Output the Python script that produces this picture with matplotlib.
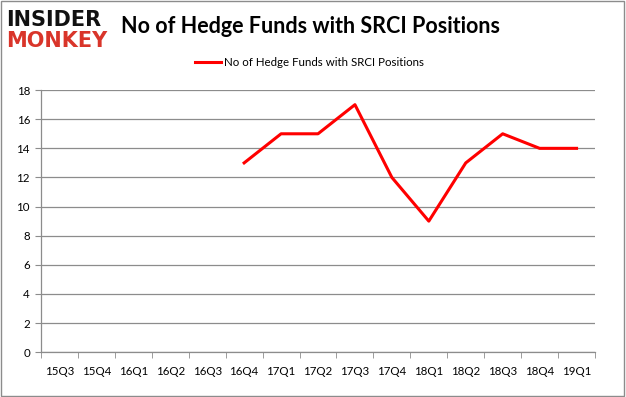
import numpy as np
import matplotlib.pyplot as plt

plt.rcParams['font.family'] = ['Lato', 'DejaVu Sans']

quarters = ['15Q3', '15Q4', '16Q1', '16Q2', '16Q3', '16Q4', '17Q1', '17Q2',
            '17Q3', '17Q4', '18Q1', '18Q2', '18Q3', '18Q4', '19Q1']
funds = [np.nan, np.nan, np.nan, np.nan, np.nan, 13, 15, 15, 17, 12, 9, 13, 15, 14, 14]
y_ticks = [0, 2, 4, 6, 8, 10, 12, 14, 16, 18]
series_name = 'No of Hedge Funds with SRCI Positions'

grid_col = '#8c8c8c'

fig = plt.figure(figsize=(6.26, 3.97), dpi=100)
ax = fig.add_axes([0.0655, 0.113, 0.885, 0.660])

x = np.arange(len(quarters))
ax.plot(x, funds, color='#ff0000', linewidth=2.2, label=series_name)

ax.set_xlim(-0.5, len(quarters) - 0.5)
ax.set_ylim(0, 18)
ax.set_yticks(y_ticks)
ax.set_xticks(x)
ax.set_xticklabels(quarters, fontsize=8.3)
ax.set_xticks(np.arange(-0.5, len(quarters)), minor=True)
ax.tick_params(axis='x', which='major', length=0, pad=10)
ax.tick_params(axis='x', which='minor', length=4, color=grid_col)
ax.tick_params(axis='y', length=4, color=grid_col, labelsize=8.3, pad=4)
ax.grid(axis='y', color=grid_col, linewidth=0.9)
ax.set_axisbelow(True)
for s in ['top', 'right']:
    ax.spines[s].set_visible(False)
for s in ['left', 'bottom']:
    ax.spines[s].set_color(grid_col)
    ax.spines[s].set_linewidth(0.9)

# legend above the plot
leg = fig.legend(loc='center', bbox_to_anchor=(0.495, 0.843), frameon=False,
                 fontsize=8.3, handlelength=2.2, handletextpad=0.3)

# title and logo
fig.text(0.194, 0.933, 'No of Hedge Funds with SRCI Positions', fontsize=15.5,
         fontweight='bold', va='center', ha='left')
fig.text(0.010, 0.950, 'INSIDER', fontsize=15, fontweight='heavy', color='#111111',
         va='center', ha='left', family='DejaVu Sans')
fig.text(0.010, 0.897, 'MONKEY', fontsize=15, fontweight='heavy', color='#d9352a',
         va='center', ha='left', family='DejaVu Sans')

# outer frame
fig.patches.append(plt.Rectangle((0.002, 0.003), 0.995, 0.994, transform=fig.transFigure,
                                 fill=False, edgecolor='#8c8c8c', linewidth=1))

fig.savefig('out.png', dpi=100)
